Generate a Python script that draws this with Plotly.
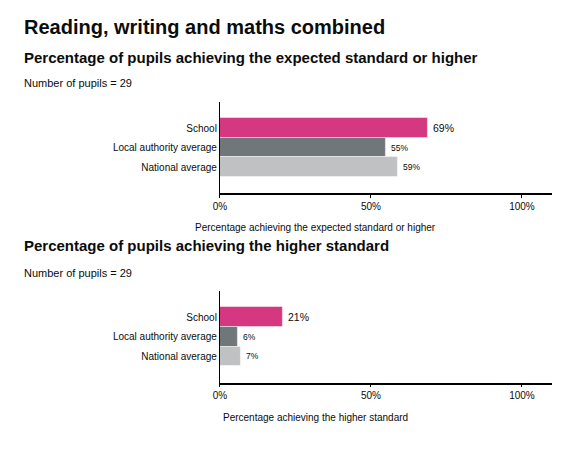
import plotly.graph_objects as go

# data
categories = ["School", "Local authority average", "National average"]
expected_pct = [69, 55, 59]
higher_pct = [21, 6, 7]
tick_vals = [0, 50, 100]
tick_text = ["0%", "50%", "100%"]
bar_colors = ["#d53880", "#6f777b", "#bfc1c3"]
label_sizes = [10.5, 8.5, 8.5]
pupils = 29

# the page body has an 8px margin, so the figure is drawn 8px smaller
OFF = 8
W, H = 565 - OFF, 458 - OFF
FONT = "Liberation Sans, Arial, sans-serif"
INK = "#0b0c0c"


def px_x(px):
    return (px - OFF) / W


def px_y(px):
    # pixel row from top of the window -> paper y
    return 1 - (px - OFF) / H


fig = go.Figure()

for i, vals in enumerate([expected_pct, higher_pct]):
    sfx = "" if i == 0 else "2"
    fig.add_trace(
        go.Bar(
            x=vals,
            y=categories,
            orientation="h",
            marker=dict(color=bar_colors, line=dict(color="rgba(255,255,255,0.45)", width=1)),
            xaxis="x" + sfx,
            yaxis="y" + sfx,
            hoverinfo="skip",
        )
    )
    # value labels just right of each bar
    for cat, v, fs in zip(categories, vals, label_sizes):
        fig.add_annotation(
            x=v,
            y=cat,
            xref="x" + sfx,
            yref="y" + sfx,
            text=f"{v}%",
            xanchor="left",
            yanchor="middle",
            xshift=3,
            showarrow=False,
            font=dict(size=fs, color=INK, family=FONT),
        )

xaxis_style = dict(
    range=[0, 110],
    tickmode="array",
    tickvals=tick_vals,
    ticktext=tick_text,
    showgrid=False,
    zeroline=False,
    showline=True,
    linecolor="black",
    linewidth=1.5,
    ticks="outside",
    ticklen=3,
    tickcolor="black",
    tickfont=dict(size=10, color=INK, family=FONT),
    domain=[px_x(215.5), px_x(552)],
)
yaxis_style = dict(
    type="category",
    categoryarray=categories,
    range=[3.34, -1.34],
    showgrid=False,
    zeroline=False,
    showline=True,
    linecolor="black",
    linewidth=1,
    ticks="",
    tickfont=dict(size=10, color=INK, family=FONT),
)

fig.update_layout(
    width=W,
    height=H,
    margin=dict(l=0, r=0, t=0, b=0),
    paper_bgcolor="white",
    plot_bgcolor="white",
    showlegend=False,
    bargap=0,
    font=dict(family=FONT, color=INK),
    xaxis=dict(xaxis_style, anchor="y"),
    yaxis=dict(yaxis_style, anchor="x", domain=[px_y(193.3), px_y(102)]),
    xaxis2=dict(xaxis_style, anchor="y2"),
    yaxis2=dict(yaxis_style, anchor="x2", domain=[px_y(382.5), px_y(291)]),
)

texts = [
    ("Reading, writing and maths combined", 15, 27, 20, True, "left"),
    ("Percentage of pupils achieving the expected standard or higher", 15, 57, 15, True, "left"),
    (f"Number of pupils = {pupils}", 15, 83, 11, False, "left"),
    ("Percentage achieving the expected standard or higher", 312.5, 227.5, 10, False, "center"),
    ("Percentage of pupils achieving the higher standard", 15, 246, 15, True, "left"),
    (f"Number of pupils = {pupils}", 15, 273, 11, False, "left"),
    ("Percentage achieving the higher standard", 312.5, 417, 10, False, "center"),
]
for txt, x, y, size, bold, anchor in texts:
    fig.add_annotation(
        text=f"<b>{txt}</b>" if bold else txt,
        x=px_x(x),
        y=px_y(y),
        xref="paper",
        yref="paper",
        xanchor=anchor,
        yanchor="middle",
        showarrow=False,
        font=dict(size=size, color=INK, family=FONT),
    )

fig.write_html("out.html")
